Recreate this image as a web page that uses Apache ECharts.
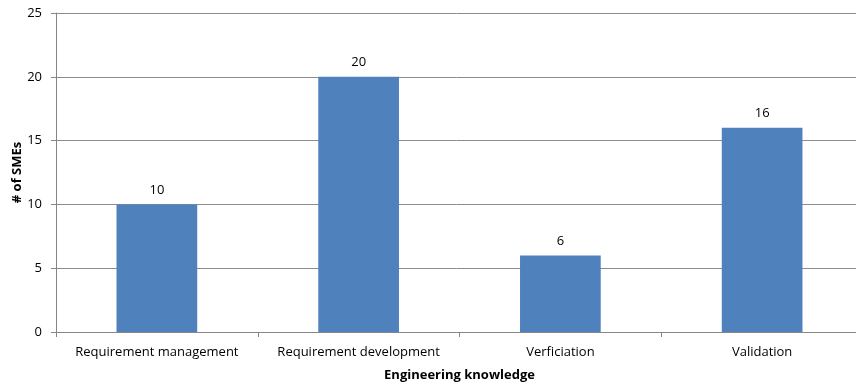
<!DOCTYPE html>
<html>
<head>
<meta charset="utf-8">
<script src="https://cdn.jsdelivr.net/npm/echarts@6/dist/echarts.min.js"></script>
<style>
html, body { margin: 0; padding: 0; background: #fff; }
#chart { width: 856px; height: 387px; }
</style>
</head>
<body>
<div id="chart"></div>
<script>
// categories and values
var categories = ['Requirement management', 'Requirement development', 'Verficiation', 'Validation'];
var smeCounts = [10, 20, 6, 16];

var myChart = echarts.init(document.getElementById('chart'));
var font = '"Open Sans", "Liberation Sans", sans-serif';

var option = {
	animation: false,
	grid: {
		left: 56,
		right: -7,
		top: 13,
		bottom: 55,
		outerBoundsMode: 'none',
		containLabel: false
	},
	xAxis: {
		type: 'category',
		data: categories,
		name: 'Engineering knowledge',
		nameLocation: 'middle',
		nameGap: 37,
		nameTextStyle: {
			color: '#000',
			fontWeight: 'bold',
			fontSize: 13,
			fontFamily: font
		},
		axisLine: {
			lineStyle: { color: '#868686', width: 1 }
		},
		axisTick: {
			show: true,
			length: 5,
			lineStyle: { color: '#868686' }
		},
		axisLabel: {
			interval: 0,
			color: '#000',
			fontSize: 13,
			fontFamily: font,
			margin: 14
		}
	},
	yAxis: {
		type: 'value',
		min: 0,
		max: 25,
		interval: 5,
		name: '# of SMEs',
		nameLocation: 'middle',
		nameGap: 32,
		nameMoveOverlap: false,
		nameTextStyle: {
			color: '#000',
			fontWeight: 'bold',
			fontSize: 13,
			fontFamily: font
		},
		axisLine: {
			show: true,
			lineStyle: { color: '#868686', width: 1 }
		},
		axisTick: {
			show: true,
			length: 5,
			lineStyle: { color: '#868686' }
		},
		axisLabel: {
			color: '#000',
			fontSize: 13,
			fontFamily: font,
			margin: 14
		},
		splitLine: {
			lineStyle: { color: '#8c8c8c', width: 1 }
		}
	},
	series: [{
		type: 'bar',
		data: smeCounts,
		barWidth: '40%',
		itemStyle: {
			color: '#4F81BD'
		},
		label: {
			show: true,
			position: 'top',
			distance: 8,
			color: '#000',
			fontSize: 13,
			fontFamily: font
		}
	}]
};

myChart.setOption(option);
</script>
</body>
</html>
